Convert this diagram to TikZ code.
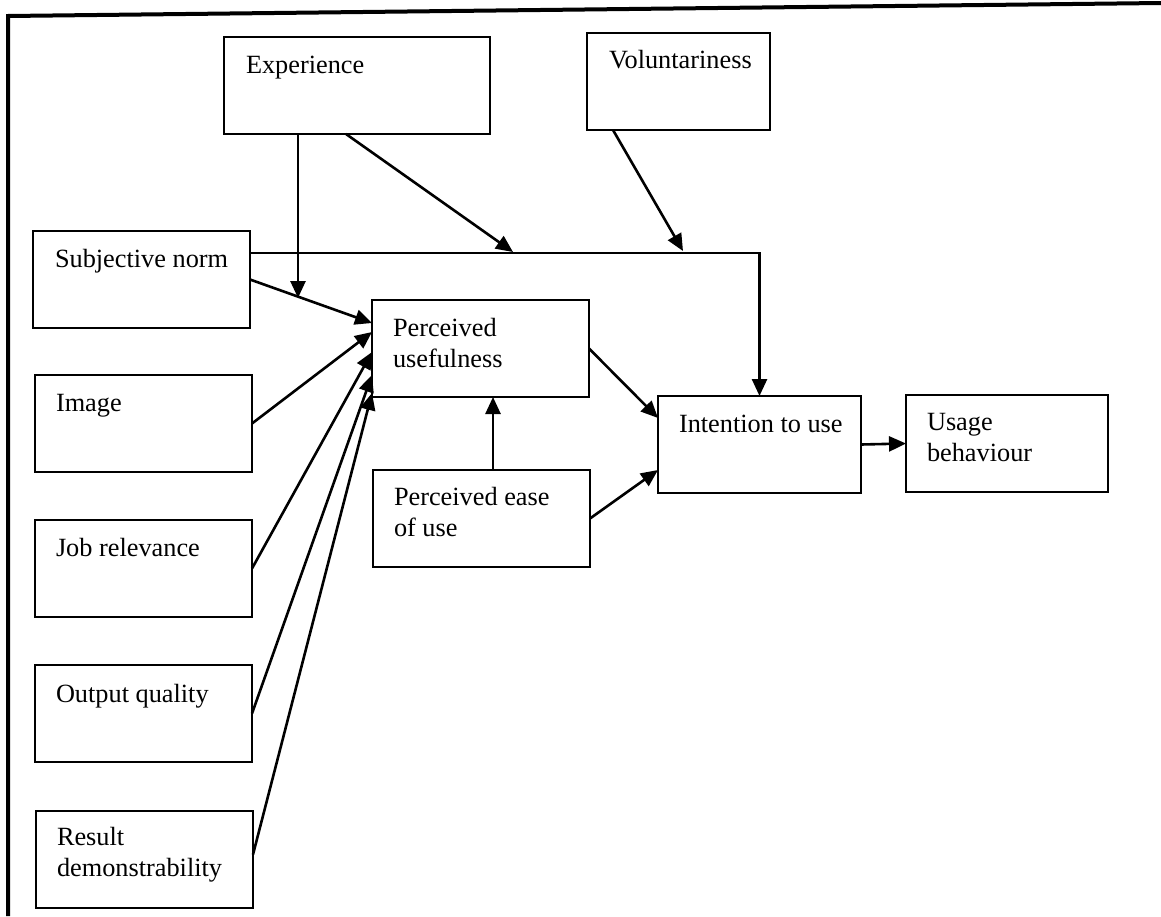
\documentclass[tikz,border=0pt]{standalone}
\usepackage{fontspec}
\setmainfont{Liberation Serif}
\usetikzlibrary{arrows.meta,calc}
\newcommand{\twoline}[2]{\begin{tabular}[t]{@{}l@{}}#1\\#2\end{tabular}}
\begin{document}
\begin{tikzpicture}[x=1pt,y=-1pt,
  box/.style={draw, line width=2pt, rectangle, inner sep=0pt, outer sep=0pt, minimum height=97pt, anchor=north west},
  lbl/.style={anchor=base west, inner sep=0pt, outer sep=0pt, font=\fontsize{26.3}{31}\selectfont},
  conn/.style={line width=2.6pt, -{Triangle[length=17pt,width=15pt]}},
  frameline/.style={line width=4pt}]
\useasboundingbox (0,0) rectangle (1161,916);
\fill[white] (0,0) rectangle (1161,916);
% frame (top and left edges)
\draw[frameline] (8,916) -- (8,16) -- (1161,3);
% boxes
\node[box, minimum width=266pt] (exp) at (224,37) {};
\node[box, minimum width=183pt] (vol) at (587,33) {};
\node[box, minimum width=217pt] (sn) at (33,231) {};
\node[box, minimum width=217pt] (img) at (35,375) {};
\node[box, minimum width=217pt] (job) at (35,520) {};
\node[box, minimum width=217pt] (out) at (35,665) {};
\node[box, minimum width=217pt] (res) at (36,811) {};
\node[box, minimum width=217pt] (pu) at (372,300) {};
\node[box, minimum width=217pt] (peou) at (373,470) {};
\node[box, minimum width=203pt] (itu) at (658,396) {};
\node[box, minimum width=202pt] (ub) at (906,395) {};
% labels
\node[lbl] (expT) at ($(exp.north west)+(22,36)$) {Experience};
\node[lbl] (volT) at ($(vol.north west)+(22,35)$) {Voluntariness};
\node[lbl] (snT) at ($(sn.north west)+(22,36)$) {Subjective norm};
\node[lbl] (imgT) at ($(img.north west)+(21,36)$) {Image};
\node[lbl] (jobT) at ($(job.north west)+(21,36)$) {Job relevance};
\node[lbl] (outT) at ($(out.north west)+(21,37)$) {Output quality};
\node[lbl] (resT) at ($(res.north west)+(21,34)$) {\twoline{Result}{demonstrability}};
\node[lbl] (puT) at ($(pu.north west)+(21,36)$) {\twoline{Perceived}{usefulness}};
\node[lbl] (peouT) at ($(peou.north west)+(21,35)$) {\twoline{Perceived ease}{of use}};
\node[lbl] (ituT) at ($(itu.north west)+(21,36)$) {Intention to use};
\node[lbl] (ubT) at ($(ub.north west)+(21,35)$) {\twoline{Usage}{behaviour}};
% free ends of moderator arrows
\coordinate (e1) at (298,298);
\coordinate (e2) at (513,252);
\coordinate (v1) at (683,251);
% connectors
\draw[conn] ($(exp.south west)+(74,0)$) -- (e1);
\draw[conn] ($(exp.south west)+(122,0)$) -- (e2);
\draw[conn] ($(vol.south west)+(26,0)$) -- (v1);
\draw[conn] ($(sn.north east)+(0,22)$) -| (itu.north);
\draw[conn] (sn.east) -- ($(pu.north west)+(0,23)$);
\draw[conn] (img.east) -- ($(pu.north west)+(0,32)$);
\draw[conn] (job.east) -- ($(pu.north west)+(0,52)$);
\draw[conn] (out.east) -- ($(pu.north west)+(0,75)$);
\draw[conn] ($(res.east)+(0,-5)$) -- ($(pu.north west)+(0,93)$);
\draw[conn] (pu.east) -- ($(itu.north west)+(0,22)$);
\draw[conn] (peou.east) -- ($(itu.north west)+(0,74)$);
\draw[conn] ($(peou.north west)+(120,0)$) -- ($(pu.south west)+(121,0)$);
\draw[conn] (itu.east) -- (ub.west);
\end{tikzpicture}
\end{document}
